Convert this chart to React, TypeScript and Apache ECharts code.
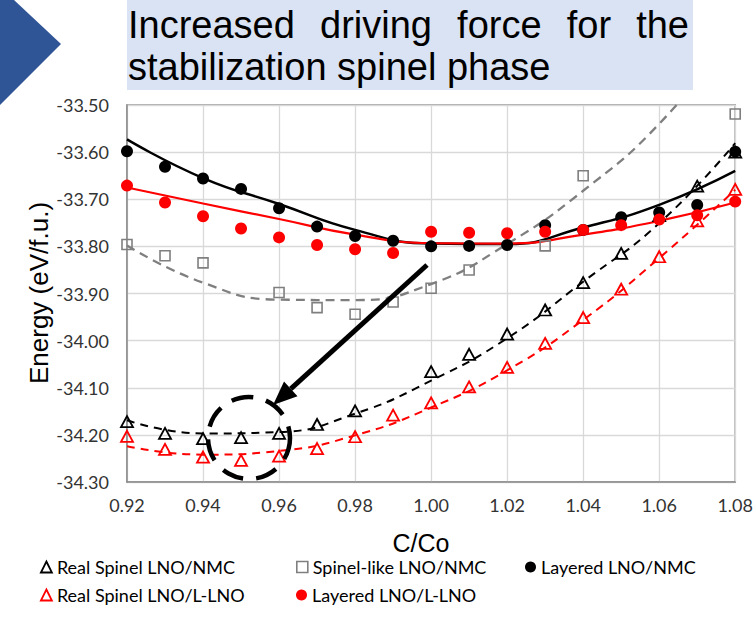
import React, { useEffect, useRef } from 'react';
import * as echarts from 'echarts';

// ---------- data ----------
const ratios = [0.92, 0.93, 0.94, 0.95, 0.96, 0.97, 0.98, 0.99, 1.0, 1.01, 1.02, 1.03, 1.04, 1.05, 1.06, 1.07, 1.08];

const layeredNMC = [-33.598, -33.631, -33.656, -33.678, -33.719, -33.758, -33.778, -33.788, -33.8, -33.799, -33.797, -33.755, -33.765, -33.738, -33.728, -33.712, -33.599];
const layeredLLNO = [-33.671, -33.707, -33.736, -33.762, -33.781, -33.797, -33.806, -33.814, -33.769, -33.771, -33.772, -33.769, -33.765, -33.755, -33.743, -33.734, -33.705];
const spinelLikeNMC = [-33.796, -33.82, -33.835, null, -33.898, -33.93, -33.944, -33.918, -33.889, -33.85, null, -33.799, -33.65, null, null, null, -33.519];
const realSpinelNMC = [-34.172, -34.197, -34.208, -34.206, -34.197, -34.178, -34.149, null, -34.066, -34.029, -33.986, -33.935, -33.877, -33.815, -33.735, -33.672, -33.6];
const realSpinelLLNO = [-34.203, -34.231, -34.247, -34.254, -34.245, -34.229, -34.204, -34.158, -34.132, -34.098, -34.057, -34.006, -33.951, -33.891, -33.822, -33.746, -33.679];

// trendline values
const trendX = [0.92, 0.94, 0.96, 0.98, 1.0, 1.02, 1.04, 1.06, 1.08];
const trendLayeredNMC = [-33.573, -33.655, -33.71, -33.765, -33.794, -33.795, -33.76, -33.712, -33.64];
const trendLayeredLLNO = [-33.675, -33.709, -33.742, -33.775, -33.793, -33.794, -33.775, -33.746, -33.707];
const trendSpinelLike = [-33.798, -33.877, -33.913, -33.914, -33.88, -33.795, -33.682, -33.54, -33.345];
const trendRealNMC = [-34.169, -34.197, -34.194, -34.155, -34.085, -33.995, -33.875, -33.751, -33.581];
const trendRealLLNO = [-34.224, -34.242, -34.234, -34.201, -34.142, -34.063, -33.956, -33.825, -33.68];

const xTicks = { min: 0.92, max: 1.08, step: 0.02 };
const yTicks = { min: -34.3, max: -33.5, step: 0.1 };

const titleLine1 = ['Increased', 'driving', 'force', 'for', 'the'];
const titleLine2 = 'stabilization spinel phase';

const NAMES = {
  rsNMC: 'Real Spinel LNO/NMC',
  slNMC: 'Spinel-like LNO/NMC',
  lNMC: 'Layered LNO/NMC',
  rsLLNO: 'Real Spinel LNO/L-LNO',
  lLLNO: 'Layered LNO/L-LNO',
};

const pairs = (xs: number[], ys: (number | null)[]) =>
  xs.map((x, i) => [x, ys[i]]).filter((d) => d[1] !== null);

export default function App() {
  const ref = useRef<HTMLDivElement>(null);

  useEffect(() => {
    if (!ref.current) return;
    const chart = echarts.init(ref.current, null, { renderer: 'svg' });

    // justified first title line
    const titleSize = 38;
    const ctx = document.createElement('canvas').getContext('2d')!;
    ctx.font = `${titleSize}px "Liberation Sans"`;
    const widths = titleLine1.map((w) => ctx.measureText(w).width);
    const left = 128;
    const right = 689;
    const total = widths.reduce((a, b) => a + b, 0);
    const gap = (right - left - total) / (titleLine1.length - 1);
    let cx = left;
    const line1Texts = titleLine1.map((w, i) => {
      const el = {
        type: 'text',
        x: cx,
        y: 25,
        style: { text: w, fontSize: titleSize, fontFamily: 'Liberation Sans', fill: '#000', align: 'left', verticalAlign: 'middle' },
      };
      cx += widths[i] + gap;
      return el;
    });

    const tip = [273, 405];
    const start = [427, 265];
    const dx = tip[0] - start[0];
    const dy = tip[1] - start[1];
    const len = Math.hypot(dx, dy);
    const ux = dx / len;
    const uy = dy / len;
    const headLen = 24;
    const headHalf = 10;
    const bx = tip[0] - headLen * ux;
    const by = tip[1] - headLen * uy;
    const nx = -uy;
    const ny = ux;

    const labelStyle = { color: '#333', fontFamily: 'Lato', fontSize: 18 };
    const legendCommon = {
      orient: 'horizontal',
      itemWidth: 11,
      itemHeight: 11,
      padding: 0,
      selectedMode: false,
      textStyle: { fontFamily: 'Lato', fontSize: 18, color: '#000' },
    };

    const option: any = {
      animation: false,
      backgroundColor: '#fff',
      grid: { left: 127, top: 105, width: 612, height: 377, show: true, borderColor: '#8c8c8c', borderWidth: 1.5, backgroundColor: 'transparent' },
      xAxis: {
        type: 'value',
        min: xTicks.min,
        max: xTicks.max,
        interval: xTicks.step,
        axisLine: { show: true, onZero: false, lineStyle: { color: '#8c8c8c', width: 1.5 } },
        axisTick: { show: false },
        splitLine: { show: true, lineStyle: { color: '#d9d9d9', width: 1.3 } },
        axisLabel: { ...labelStyle, margin: 14, formatter: (v: number) => v.toFixed(2) },
      },
      yAxis: {
        type: 'value',
        min: yTicks.min,
        max: yTicks.max,
        interval: yTicks.step,
        axisLine: { show: true, onZero: false, lineStyle: { color: '#8c8c8c', width: 1.5 } },
        axisTick: { show: false },
        splitLine: { show: true, lineStyle: { color: '#d9d9d9', width: 1.3 } },
        axisLabel: { ...labelStyle, margin: 18, formatter: (v: number) => v.toFixed(2) },
      },
      legend: [
        { ...legendCommon, left: 40, top: 558, data: [{ name: NAMES.rsNMC, icon: 'triangle', itemStyle: { color: 'rgba(0,0,0,0)', borderColor: '#000', borderWidth: 1.8 } }] },
        { ...legendCommon, left: 296, top: 558, data: [{ name: NAMES.slNMC, icon: 'rect', itemStyle: { color: 'rgba(0,0,0,0)', borderColor: '#7f7f7f', borderWidth: 1.6 } }] },
        { ...legendCommon, left: 525, top: 558, data: [{ name: NAMES.lNMC, icon: 'circle', itemStyle: { color: '#000' } }] },
        { ...legendCommon, left: 40, top: 586, data: [{ name: NAMES.rsLLNO, icon: 'triangle', itemStyle: { color: 'rgba(0,0,0,0)', borderColor: '#ff0000', borderWidth: 1.8 } }] },
        { ...legendCommon, left: 296, top: 586, data: [{ name: NAMES.lLLNO, icon: 'circle', itemStyle: { color: '#ff0000' } }] },
      ],
      series: [
        // trendlines
        { type: 'line', name: 't1', data: pairs(trendX, trendSpinelLike), smooth: 0.5, showSymbol: false, symbol: 'none', silent: true, z: 2, lineStyle: { color: '#7f7f7f', width: 2.3, type: [9, 6] } },
        { type: 'line', name: 't2', data: pairs(trendX, trendRealNMC), smooth: 0.5, showSymbol: false, symbol: 'none', silent: true, z: 2, lineStyle: { color: '#000', width: 2, type: [8, 6] } },
        { type: 'line', name: 't3', data: pairs(trendX, trendRealLLNO), smooth: 0.5, showSymbol: false, symbol: 'none', silent: true, z: 2, lineStyle: { color: '#ff0000', width: 2, type: [8, 6] } },
        { type: 'line', name: 't4', data: pairs(trendX, trendLayeredNMC), smooth: 0.5, showSymbol: false, symbol: 'none', silent: true, z: 2, lineStyle: { color: '#000', width: 2.5 } },
        { type: 'line', name: 't5', data: pairs(trendX, trendLayeredLLNO), smooth: 0.5, showSymbol: false, symbol: 'none', silent: true, z: 2, lineStyle: { color: '#ff0000', width: 2.2 } },
        // markers
        { type: 'scatter', name: NAMES.slNMC, data: pairs(ratios, spinelLikeNMC), symbol: 'rect', symbolSize: 10, z: 3, itemStyle: { color: 'rgba(0,0,0,0)', borderColor: '#7f7f7f', borderWidth: 1.6, opacity: 1 } },
        { type: 'scatter', name: NAMES.rsNMC, data: pairs(ratios, realSpinelNMC), symbol: 'triangle', symbolSize: [12, 11], z: 3, itemStyle: { color: 'rgba(0,0,0,0)', borderColor: '#000', borderWidth: 1.8, opacity: 1 } },
        { type: 'scatter', name: NAMES.rsLLNO, data: pairs(ratios, realSpinelLLNO), symbol: 'triangle', symbolSize: [12, 11], z: 3, itemStyle: { color: 'rgba(0,0,0,0)', borderColor: '#ff0000', borderWidth: 1.8, opacity: 1 } },
        { type: 'scatter', name: NAMES.lNMC, data: pairs(ratios, layeredNMC), symbol: 'circle', symbolSize: 12, z: 4, itemStyle: { color: '#000', opacity: 1 } },
        { type: 'scatter', name: NAMES.lLLNO, data: pairs(ratios, layeredLLNO), symbol: 'circle', symbolSize: 12, z: 4, itemStyle: { color: '#ff0000', opacity: 1 } },
      ],
      graphic: [
        { type: 'polygon', shape: { points: [[0, 0], [14, 0], [61, 44], [0, 105]] }, style: { fill: '#2f5597' } },
        { type: 'rect', shape: { x: 127, y: 0, width: 566, height: 90 }, style: { fill: '#dae3f3' } },
        ...line1Texts,
        { type: 'text', x: 128, y: 67, style: { text: titleLine2, fontSize: titleSize, fontFamily: 'Liberation Sans', fill: '#000', align: 'left', verticalAlign: 'middle' } },
        { type: 'text', x: 39, y: 293, rotation: Math.PI / 2, style: { text: 'Energy (eV/f.u.)', fontSize: 26, fontFamily: 'Liberation Sans', fill: '#000', align: 'center', verticalAlign: 'middle' } },
        { type: 'text', x: 421, y: 543, style: { text: 'C/Co', fontSize: 25, fontFamily: 'Liberation Sans', fill: '#000', align: 'center', verticalAlign: 'middle' } },
        { type: 'line', z: 100, shape: { x1: start[0], y1: start[1], x2: bx, y2: by }, style: { stroke: '#000', lineWidth: 5 } },
        { type: 'polygon', z: 100, shape: { points: [tip, [bx + headHalf * nx, by + headHalf * ny], [bx - headHalf * nx, by - headHalf * ny]] }, style: { fill: '#000' } },
        { type: 'circle', z: 100, shape: { cx: 249, cy: 438, r: 41 }, style: { fill: 'none', stroke: '#000', lineWidth: 4.5, lineDash: [22, 13] } },
      ],
    };

    chart.setOption(option);
    return () => chart.dispose();
  }, []);

  return <div ref={ref} style={{ position: 'absolute', left: 0, top: 0, width: 756, height: 620 }} />;
}
